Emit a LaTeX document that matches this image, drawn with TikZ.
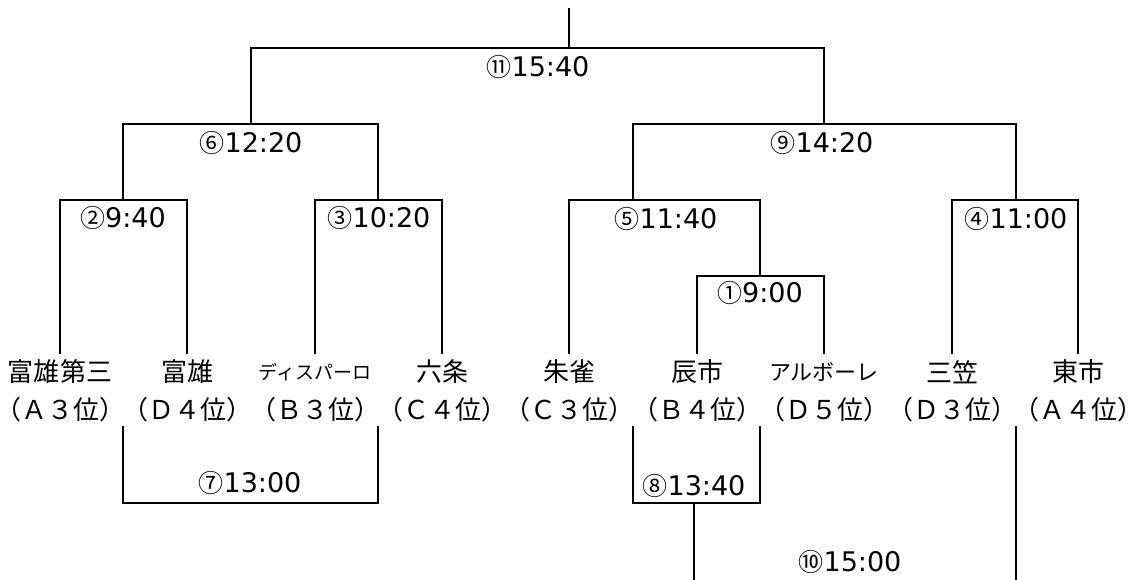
\documentclass[tikz,border=0pt]{standalone}
\usepackage{fontspec}
\newfontfamily\jp{Noto Sans CJK JP}
\newfontfamily\dvs{DejaVu Sans}
\newcommand\circnum[1]{{\jp\fontsize{25}{30}\selectfont #1}}
\newcommand\rk[1]{\kern-0.4em#1\kern-0.4em}
\tikzset{
  bracket/.style={line width=2pt, line cap=rect},
  tname/.style={inner sep=0pt, minimum height=38pt, font=\jp\fontsize{26}{30}\selectfont},
  trank/.style={inner sep=0pt, minimum height=34pt, font=\jp\fontsize{26}{30}\selectfont},
  lab/.style={inner sep=0pt, font=\dvs\fontsize{27}{30}\selectfont},
}
\begin{document}
\begin{tikzpicture}[x=1pt,y=-1pt]
\useasboundingbox (0,0) rectangle (1137,579);
% team names (top line) and ranks (bottom line)
\node[tname] (t1) at (60,372)   {富雄第三};
\node[tname] (t2) at (187,372)  {富雄};
\node[tname] (t3) at (315,372)  {\fontsize{19}{30}\selectfont ディスパーロ};
\node[tname] (t4) at (442,372)  {六条};
\node[tname] (t5) at (569,372)  {朱雀};
\node[tname] (t6) at (697,372)  {辰市};
\node[tname] (t7) at (824,372)  {\fontsize{22}{30}\selectfont アルボーレ};
\node[tname] (t8) at (952,372)  {三笠};
\node[tname] (t9) at (1078,372) {東市};
\node[trank] (r1) at (60,410)   {\rk{（Ａ３位）}};
\node[trank] (r2) at (187,410)  {\rk{（Ｄ４位）}};
\node[trank] (r3) at (315,410)  {\rk{（Ｂ３位）}};
\node[trank] (r4) at (442,410)  {\rk{（Ｃ４位）}};
\node[trank] (r5) at (569,410)  {\rk{（Ｃ３位）}};
\node[trank] (r6) at (697,410)  {\rk{（Ｂ４位）}};
\node[trank] (r7) at (824,410)  {\rk{（Ｄ５位）}};
\node[trank] (r8) at (952,410)  {\rk{（Ｄ３位）}};
\node[trank] (r9) at (1078,410) {\rk{（Ａ４位）}};
% junctions
\coordinate (root) at (569,9);
\coordinate (m11) at (569,48);
\coordinate (m6) at (251,124);
\coordinate (m9) at (824,124);
\coordinate (m2) at (123,200);
\coordinate (m3) at (378,200);
\coordinate (m5) at (633,200);
\coordinate (m4) at (1016,200);
\coordinate (m1) at (760,276);
\coordinate (m7) at (250,503);
\coordinate (m8) at (694,503);
\coordinate (b8) at (694,581);
\coordinate (b10) at (1016,581);
\coordinate (d7a) at (123,427);
\coordinate (d7b) at (378,427);
\coordinate (d8a) at (633,427);
\coordinate (d8b) at (760,427);
\coordinate (d10) at (1016,427);
% upper brackets
\draw[bracket] (root) -- (m11);
\draw[bracket] (m6) |- (m11) -| (m9);
\draw[bracket] (m2) |- (m6) -| (m3);
\draw[bracket] (m5) |- (m9) -| (m4);
\draw[bracket] (t1.north) |- (m2) -| (t2.north);
\draw[bracket] (t3.north) |- (m3) -| (t4.north);
\draw[bracket] (t5.north) |- (m5) -| (m1);
\draw[bracket] (t6.north) |- (m1) -| (t7.north);
\draw[bracket] (t8.north) |- (m4) -| (t9.north);
% lower brackets
\draw[bracket] (d7a) |- (m7) -| (d7b);
\draw[bracket] (d8a) |- (m8) -| (d8b);
\draw[bracket] (m8) -- (b8);
\draw[bracket] (d10) -- (b10);
% labels
\node[lab] (l11) at (538,67)  {\circnum{⑪}15:40};
\node[lab] (l6)  at (251,143) {\circnum{⑥}12:20};
\node[lab] (l9)  at (822,143) {\circnum{⑨}14:20};
\node[lab] (l2)  at (123,218) {\circnum{②}9:40};
\node[lab] (l3)  at (379,218) {\circnum{③}10:20};
\node[lab] (l5)  at (666,219) {\circnum{⑤}11:40};
\node[lab] (l4)  at (1016,219) {\circnum{④}11:00};
\node[lab] (l1)  at (760,293) {\circnum{①}9:00};
\node[lab] (l7)  at (250,483) {\circnum{⑦}13:00};
\node[lab] (l8)  at (694,486) {\circnum{⑧}13:40};
\node[lab] (l10) at (850,562) {\circnum{⑩}15:00};
\end{tikzpicture}
\end{document}
